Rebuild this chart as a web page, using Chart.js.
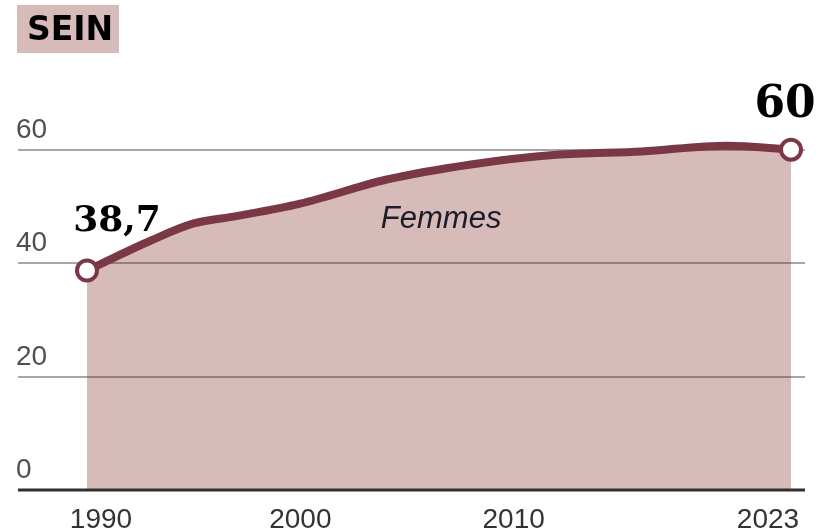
<!DOCTYPE html>
<html><head><meta charset="utf-8">
<script src="https://cdn.jsdelivr.net/npm/chart.js@4/dist/chart.umd.min.js"></script>
<style>html,body{margin:0;padding:0;background:#fff;} canvas{display:block;}</style>
</head><body>
<canvas id="c" width="820" height="532"></canvas>
<script>
const titleText = 'SEIN';
const seriesLabel = 'Femmes';
const years = [1990, 1993, 1995, 1997, 2000, 2004, 2008, 2012, 2016, 2020, 2023];
const values = [38.7, 44.0, 47.0, 48.3, 50.5, 54.7, 57.4, 59.1, 59.7, 60.7, 60.0];
const yTicks = [0, 20, 40, 60];
const xTicks = [1990, 2000, 2010, 2023];
const endLabels = ['38,7', '60'];

const MAROON = '#7a3846';
const FILL = '#d6bbb8';
const points = years.map((yr, i) => ({x: yr, y: values[i]}));

const decor = {
  id: 'decor',
  afterDatasetDraw(chart, args) {
    if (args.index !== 1) return;
    const ctx = chart.ctx, ys = chart.scales.y, ca = chart.chartArea;
    ctx.save();
    yTicks.forEach(v => {
      const py = Math.round(ys.getPixelForValue(v));
      ctx.beginPath();
      ctx.moveTo(ca.left, py); ctx.lineTo(ca.right, py);
      if (v === 0) { ctx.strokeStyle = '#303030'; ctx.lineWidth = 3; }
      else { ctx.strokeStyle = 'rgba(60,60,60,0.45)'; ctx.lineWidth = 2; }
      ctx.stroke();
    });
    ctx.restore();
  },
  afterDraw(chart) {
    const ctx = chart.ctx, xs = chart.scales.x, ys = chart.scales.y, ca = chart.chartArea;
    ctx.save();
    ctx.fillStyle = FILL;
    ctx.fillRect(17, 5, 102, 48);
    ctx.fillStyle = '#000';
    ctx.font = 'bold 33px "DejaVu Sans"';
    ctx.textAlign = 'left'; ctx.textBaseline = 'alphabetic';
    ctx.fillText(titleText, 27, 40);
    ctx.font = '28px "Liberation Sans"';
    ctx.fillStyle = '#505050';
    yTicks.forEach(v => {
      const py = ys.getPixelForValue(v);
      ctx.fillText(String(v), ca.left - 2, py - 12);
    });
    ctx.fillStyle = '#333';
    ctx.textAlign = 'center';
    xTicks.forEach((v, i) => {
      let px = xs.getPixelForValue(v);
      if (i === 0) px += 14;
      if (i === xTicks.length - 1) px -= 23;
      ctx.fillText(String(v), px, 528);
    });
    ctx.fillStyle = '#000';
    ctx.font = 'bold 36px "DejaVu Serif"';
    const p0x = xs.getPixelForValue(years[0]), p0y = ys.getPixelForValue(values[0]);
    ctx.fillText(endLabels[0], p0x + 30, p0y - 40);
    ctx.font = 'bold 44px "DejaVu Serif"';
    const nI = years.length - 1;
    const pnx = xs.getPixelForValue(years[nI]), pny = ys.getPixelForValue(values[nI]);
    ctx.fillText(endLabels[1], pnx - 6, pny - 33);
    ctx.fillStyle = '#1c1c2a';
    ctx.font = 'italic 31px "Liberation Sans"';
    ctx.fillText(seriesLabel, xs.getPixelForValue(2006.6), ys.getPixelForValue(46.2));
    ctx.restore();
  }
};

new Chart(document.getElementById('c'), {
  type: 'line',
  data: {
    datasets: [
      {
        label: seriesLabel,
        data: points,
        order: 1,
        borderColor: MAROON,
        borderWidth: 8,
        fill: false,
        cubicInterpolationMode: 'monotone',
        pointRadius: ctx => (ctx.dataIndex === 0 || ctx.dataIndex === years.length - 1) ? 10 : 0,
        pointBackgroundColor: '#fff',
        pointBorderColor: MAROON,
        pointBorderWidth: 4,
        clip: false
      },
      {
        label: 'area',
        data: points,
        order: 2,
        borderWidth: 0,
        borderColor: 'rgba(0,0,0,0)',
        backgroundColor: FILL,
        fill: 'origin',
        cubicInterpolationMode: 'monotone',
        pointRadius: 0
      }
    ]
  },
  options: {
    responsive: false,
    animation: false,
    devicePixelRatio: 1,
    layout: { padding: { left: 18, right: 15, top: 93, bottom: 42 } },
    plugins: { legend: { display: false }, tooltip: { enabled: false } },
    scales: {
      x: { type: 'linear', min: 1986.766, max: 2023.656, display: false },
      y: { type: 'linear', min: 0, max: 70, display: false }
    }
  },
  plugins: [decor]
});
</script>
</body></html>
